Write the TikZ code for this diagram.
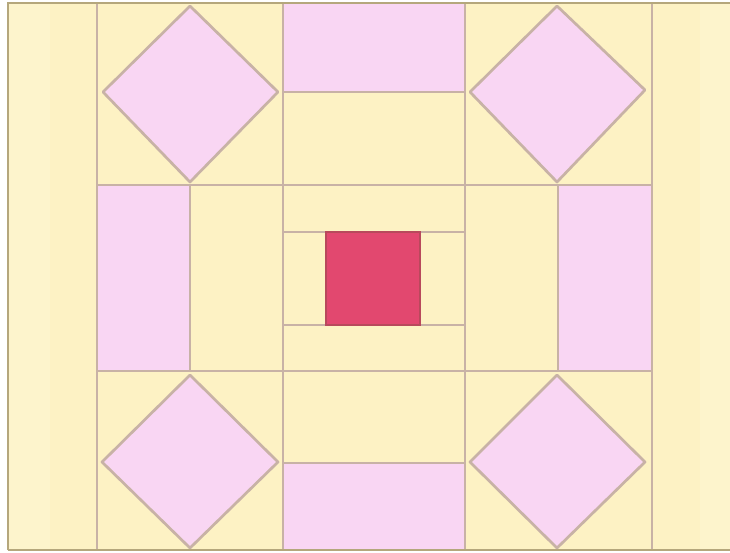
\documentclass[tikz,border=0pt]{standalone}
\usetikzlibrary{calc}
\definecolor{cream}{HTML}{FDF2C4}
\definecolor{creamlight}{HTML}{FDF4CC}
\definecolor{petal}{HTML}{F9D6F3}
\definecolor{seam}{HTML}{C8B2A6}
\definecolor{seamdark}{HTML}{B5A77C}
\definecolor{rose}{HTML}{E2486F}
\definecolor{rosedark}{HTML}{B8495C}
\tikzset{
  seamline/.style={draw=seam, line width=2.3pt},
  borderline/.style={draw=seamdark, line width=2.4pt},
  pinkpatch/.style={fill=petal, draw=seam, line width=2.3pt},
  diamondpatch/.style={fill=petal, draw=seam, line width=2.3pt, line join=round},
  redpatch/.style={fill=rose, draw=rosedark, line width=1.8pt},
}
\begin{document}
\begin{tikzpicture}[x=0.03cm,y=-0.03cm]
\useasboundingbox (0,0) rectangle (730,552);
\fill[white] (0,0) rectangle (730,552);
% background fabric
\fill[cream] (8,3) rectangle (730,550);
\fill[creamlight] (8,3) rectangle (50,550);
\fill[creamlight] (700,3) rectangle (730,550);
% pink rectangles
\draw[pinkpatch] (283,3) rectangle (465,92);
\draw[pinkpatch] (283,463) rectangle (465,550);
\draw[pinkpatch] (97,185) rectangle (190,371);
\draw[pinkpatch] (558,185) rectangle (652,371);
% diamonds
\draw[diamondpatch] (103,92) -- (190,6) -- (278,92) -- (190,182) -- cycle;
\draw[diamondpatch] (470,92) -- (557,6) -- (645,90) -- (557,182) -- cycle;
\draw[diamondpatch] (102,462) -- (190,375) -- (278,462) -- (190,548) -- cycle;
\draw[diamondpatch] (470,462) -- (557,375) -- (645,462) -- (557,548) -- cycle;
% grid seams
\draw[seamline] (97,3) -- (97,550);
\draw[seamline] (283,3) -- (283,550);
\draw[seamline] (465,3) -- (465,550);
\draw[seamline] (652,3) -- (652,550);
\draw[seamline] (97,185) -- (652,185);
\draw[seamline] (97,371) -- (652,371);
\draw[seamline] (283,232) -- (465,232);
\draw[seamline] (283,325) -- (465,325);
% centre square
\draw[redpatch] (326,232) rectangle (420,325);
% outer border
\draw[borderline] (8,550) -- (8,3) -- (730,3);
\draw[borderline] (8,550) -- (730,550);
\end{tikzpicture}
\end{document}
